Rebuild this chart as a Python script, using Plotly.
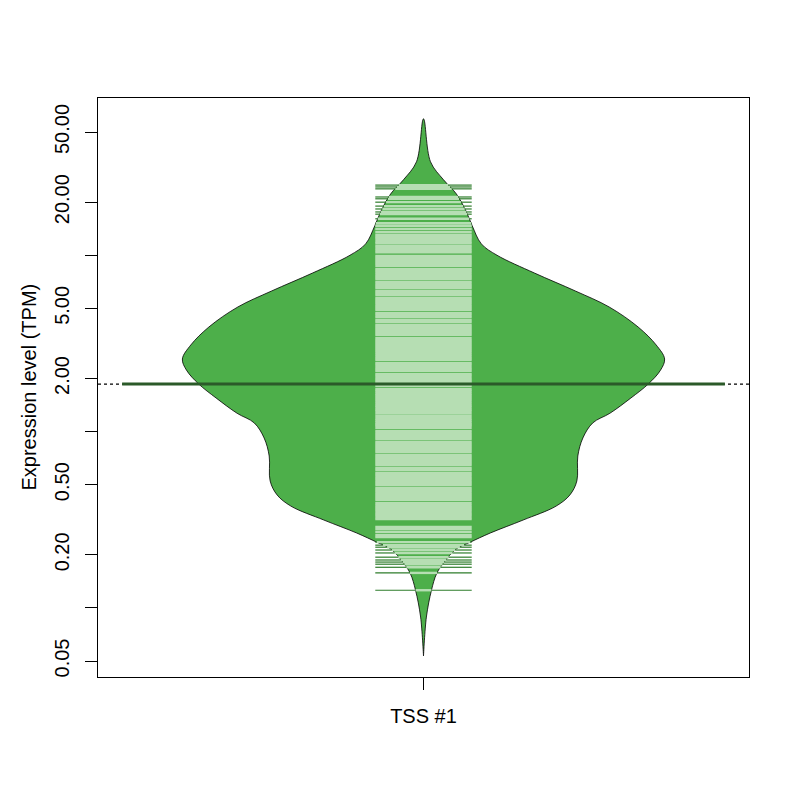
import numpy as np
import plotly.graph_objects as go

# ---------------- data ----------------
category = "TSS #1"

# bean outline: TPM value (top -> bottom) and relative half width (0..1)
outline_tpm = [59.4, 33.9, 26.8, 22.3, 17.6, 14.7, 11.6, 10.0, 7.93, 6.27, 5.09,
               3.92, 3.10, 2.58, 2.23, 1.86, 1.55, 1.27, 1.12, 0.92, 0.727, 0.525,
               0.437, 0.378, 0.315, 0.266, 0.236, 0.216, 0.180, 0.156, 0.126, 0.0888, 0.0534]
outline_rel_width = [0.0, 0.029, 0.083, 0.136, 0.178, 0.202, 0.240, 0.305, 0.460, 0.630, 0.770,
                     0.890, 0.965, 1.0, 0.983, 0.932, 0.860, 0.773, 0.702, 0.661, 0.640, 0.636,
                     0.607, 0.550, 0.413, 0.277, 0.194, 0.136, 0.083, 0.054, 0.033, 0.012, 0.0]

# individual observations (bean lines), TPM
expression_tpm = [
    25.0, 24.4, 23.8, 21.4, 20.9, 20.0, 19.0, 18.3, 17.6, 17.1, 16.1, 15.2, 14.7, 14.1, 13.5, 13.0,
    12.7, 12.4, 12.0, 11.7, 11.3, 11.0, 10.7, 10.4, 9.91, 9.65, 9.40, 9.16, 8.93, 8.70, 8.36, 8.15,
    7.94, 7.73, 7.53, 7.34, 7.06, 6.87, 6.70, 6.52, 6.27, 6.11, 5.95, 5.72, 5.57, 5.43, 5.29, 5.15,
    5.02, 4.89, 4.70, 4.58, 4.46, 4.29, 4.18, 4.02, 3.92, 3.82, 3.72, 3.62, 3.53, 3.39, 3.30, 3.22,
    3.14, 3.06, 2.98, 2.90, 2.83, 2.75, 2.68, 2.61, 2.55, 2.45, 2.39, 2.32, 2.26, 2.21, 2.12, 2.07,
    2.01, 1.96, 1.91, 1.86, 1.81, 1.74, 1.70, 1.65, 1.61, 1.57, 1.53, 1.49, 1.45, 1.41, 1.38, 1.34,
    1.31, 1.27, 1.23, 1.19, 1.16, 1.13, 1.10, 1.08, 1.05, 1.01, 0.982, 0.957, 0.932, 0.908, 0.873,
    0.851, 0.829, 0.807, 0.787, 0.766, 0.737, 0.718, 0.699, 0.681, 0.663, 0.646, 0.622, 0.606,
    0.582, 0.568, 0.553, 0.539, 0.525, 0.511, 0.498, 0.479, 0.466, 0.454, 0.442, 0.431, 0.420,
    0.409, 0.393, 0.383, 0.373, 0.364, 0.355, 0.345, 0.337, 0.328, 0.319,
    0.288, 0.280, 0.270, 0.259, 0.252, 0.236, 0.227, 0.221, 0.213, 0.205, 0.194, 0.187, 0.182,
    0.177, 0.170, 0.158, 0.126,
]

average_tpm = 1.86

y_tick_values = [50, 20, 10, 5, 2, 1, 0.5, 0.2, 0.1, 0.05]
y_tick_labels = ["50.00", "20.00", "", "5.00", "2.00", "", "0.50", "0.20", "", "0.05"]

# ---------------- styling / geometry ----------------
CENTER = 1.0
MAX_HALF = 0.40      # bean maximum half width (x units)
LINE_HALF = 0.08     # bean line half length
AVG_HALF = 0.50      # average line half length
FONT = "Liberation Sans, Arial, Helvetica, sans-serif"
BEAN = "#4DAF4A"
LINE_IN = "#B6DEB3"
LINE_OUT = "#2E7D2B"
AVG = "#2B5A29"

ot = np.array(outline_tpm, dtype=float)
ow = np.array(outline_rel_width, dtype=float) * MAX_HALF

xs = np.concatenate([CENTER + ow, (CENTER - ow)[::-1]])
ys = np.concatenate([ot, ot[::-1]])

# half width of the bean at each observation (for inside / outside colouring)
log_o = np.log10(ot)[::-1]
w_o = ow[::-1]

in_x, in_y, out_x, out_y = [], [], [], []
for v in expression_tpm:
    w = float(np.interp(np.log10(v), log_o, w_o))
    h = min(w, LINE_HALF)
    in_x += [CENTER - h, CENTER + h, None]
    in_y += [v, v, None]
    if w < LINE_HALF:
        out_x += [CENTER - LINE_HALF, CENTER - w, None, CENTER + w, CENTER + LINE_HALF, None]
        out_y += [v, v, None, v, v, None]

fig = go.Figure()

# overall average (dotted, full width)
fig.add_trace(go.Scatter(x=[0.46, 1.54], y=[average_tpm, average_tpm], mode="lines",
                         line=dict(color="black", width=1.2, dash="dot"),
                         hoverinfo="skip", showlegend=False))

# bean
fig.add_trace(go.Scatter(x=xs, y=ys, mode="lines", fill="toself", fillcolor=BEAN,
                         line=dict(color="black", width=0.8, shape="spline", smoothing=1.0),
                         hoverinfo="skip", showlegend=False))

# bean lines
fig.add_trace(go.Scatter(x=in_x, y=in_y, mode="lines", line=dict(color=LINE_IN, width=2.4),
                         hoverinfo="skip", showlegend=False))
fig.add_trace(go.Scatter(x=out_x, y=out_y, mode="lines", line=dict(color=LINE_OUT, width=1.2),
                         hoverinfo="skip", showlegend=False))

# bean average line
fig.add_trace(go.Scatter(x=[CENTER - AVG_HALF, CENTER + AVG_HALF], y=[average_tpm, average_tpm],
                         mode="lines", line=dict(color=AVG, width=3),
                         hoverinfo="skip", showlegend=False))

# the page body has an 8px margin: the figure is 784x784 placed at (8, 8)
fig.update_layout(
    width=784, height=784,
    margin=dict(l=90, r=43, t=90, b=115),
    paper_bgcolor="white", plot_bgcolor="white",
    font=dict(family=FONT, size=20, color="black"),
    showlegend=False,
    xaxis=dict(range=[0.46, 1.54], tickvals=[CENTER], ticktext=[category],
               ticks="outside", ticklen=12, tickwidth=1.2, tickcolor="black",
               showline=True, mirror=True, linecolor="black", linewidth=1.2,
               showgrid=False, zeroline=False, ticklabelstandoff=9,
               tickfont=dict(family=FONT, size=20, color="black")),
    yaxis=dict(type="log", range=[-1.3917, 1.8918],
               tickvals=y_tick_values, ticktext=y_tick_labels, tickangle=-90,
               ticks="outside", ticklen=12, tickwidth=1.2, tickcolor="black",
               showline=True, mirror=True, linecolor="black", linewidth=1.2,
               showgrid=False, zeroline=False, ticklabelstandoff=8,
               tickfont=dict(family=FONT, size=20, color="black")),
    annotations=[dict(text="Expression level (TPM)", xref="paper", yref="paper",
                      x=-0.1075, y=0.5, xanchor="center", yanchor="middle",
                      textangle=-90, showarrow=False,
                      font=dict(family=FONT, size=20, color="black"))],
)

fig.write_html("out.html")
